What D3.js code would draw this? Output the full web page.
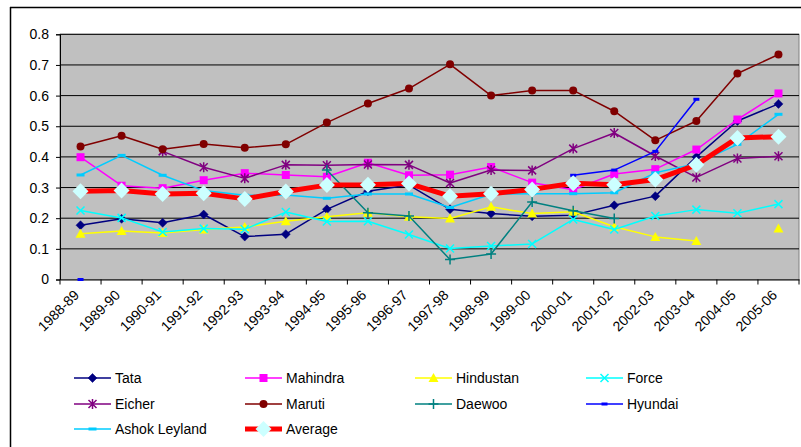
<!DOCTYPE html>
<html><head><meta charset="utf-8">
<script src="https://cdn.jsdelivr.net/npm/d3@7"></script>
<style>
html,body{margin:0;padding:0;background:#fff;}
svg{display:block;font-family:"Liberation Sans",Arial,sans-serif;}
</style></head>
<body><svg id="c" width="801" height="447"></svg>
<script>
const years = ["1988-89","1989-90","1990-91","1991-92","1992-93","1993-94","1994-95","1995-96","1996-97","1997-98","1998-99","1999-00","2000-01","2001-02","2002-03","2003-04","2004-05","2005-06"];
const yTicks = [0,0.1,0.2,0.3,0.4,0.5,0.6,0.7,0.8];
const tata      = [0.177,0.198,0.185,0.212,0.140,0.148,0.229,0.288,0.308,0.229,0.215,0.206,0.210,0.242,0.272,0.400,0.517,0.573];
const mahindra  = [0.399,0.306,0.298,0.324,0.347,0.341,0.335,0.381,0.340,0.342,0.367,0.316,0.293,0.344,0.360,0.424,0.522,0.607];
const hindustan = [0.149,0.158,0.152,0.163,0.171,0.190,0.205,0.218,0.205,0.199,0.237,0.215,0.221,0.172,0.139,0.126,null,0.166];
const force     = [0.225,0.201,0.155,0.166,0.164,0.220,0.189,0.190,0.147,0.101,0.109,0.116,0.196,0.163,0.207,0.228,0.216,0.246];
const eicher    = [null,null,0.418,0.366,0.330,0.374,0.373,0.375,0.374,0.315,0.357,0.356,0.427,0.478,0.403,0.333,0.395,0.402];
const maruti    = [0.434,0.469,0.425,0.442,0.430,0.441,0.512,0.574,0.623,0.702,0.600,0.617,0.617,0.549,0.454,0.517,0.672,0.734];
const daewoo    = [null,null,null,null,null,null,0.357,0.218,0.207,0.065,0.083,0.253,0.224,0.199,null,null,null,null];
const hyundai   = [0,null,null,null,null,null,null,null,null,null,null,null,0.340,0.357,0.418,0.588,null,null];
const ashok     = [0.341,0.405,0.340,0.290,0.275,0.276,0.265,0.279,0.279,0.235,0.278,0.280,0.280,0.283,0.348,0.378,0.441,0.539];
const average   = [0.288,0.290,0.279,0.281,0.263,0.287,0.308,0.309,0.313,0.272,0.280,0.294,0.314,0.309,0.326,0.374,0.462,0.466];

const series = [
  {name:"Tata", values:tata, color:"#000080", marker:"diamond", lw:1.5},
  {name:"Mahindra", values:mahindra, color:"#FF00FF", marker:"square", lw:1.5},
  {name:"Hindustan", values:hindustan, color:"#FFFF00", marker:"triangle", lw:1.5},
  {name:"Force", values:force, color:"#00FFFF", marker:"x", lw:1.5},
  {name:"Eicher", values:eicher, color:"#800080", marker:"star", lw:1.5},
  {name:"Maruti", values:maruti, color:"#800000", marker:"circle", lw:1.5},
  {name:"Daewoo", values:daewoo, color:"#008080", marker:"plus", lw:1.5},
  {name:"Hyundai", values:hyundai, color:"#0000FF", marker:"dash", lw:1.5},
  {name:"Ashok Leyland", values:ashok, color:"#00CCFF", marker:"dash2", lw:1.5},
  {name:"Average", values:average, color:"#FF0000", marker:"bigdiamond", lw:5}
];

const FS = 14;
const svg = d3.select("#c");
const L=60, R=799, T=34.3, B=279.5;
const x = d3.scaleBand().domain(years).range([L,R]);
const y = d3.scaleLinear().domain([0,0.8]).range([B,T]);

// outer frame
svg.append("line").attr("x1",10).attr("x2",801).attr("y1",7.5).attr("y2",7.5).attr("stroke","#000").attr("stroke-width",1.5);
svg.append("line").attr("x1",10.5).attr("x2",10.5).attr("y1",7).attr("y2",447).attr("stroke","#000").attr("stroke-width",1.5);

// plot bg
svg.append("rect").attr("x",L).attr("y",T).attr("width",R-L).attr("height",B-T).attr("fill","#C0C0C0").attr("stroke","#808080").attr("stroke-width",1);

// gridlines
svg.append("g").selectAll("line").data(yTicks.slice(1)).join("line")
  .attr("x1",L).attr("x2",R).attr("y1",d=>y(d)).attr("y2",d=>y(d))
  .attr("stroke","#000").attr("stroke-width",1);

// y axis
const yAxis = d3.axisLeft(y).tickValues(yTicks).tickSize(4).tickPadding(7).tickFormat(d=>d===0?"0":d3.format(".1f")(d));
const gy = svg.append("g").attr("transform",`translate(${L},0)`).call(yAxis);
gy.select(".domain").attr("stroke","#000");
gy.selectAll(".tick line").attr("stroke","#000");
gy.selectAll("text").attr("font-size",FS).attr("fill","#000").attr("font-family","Liberation Sans, Arial, sans-serif");

// x axis
const xAxis = d3.axisBottom(x).tickSize(0).tickFormat("");
const gx = svg.append("g").attr("transform",`translate(0,${B})`).call(xAxis);
gx.select(".domain").attr("stroke","#000");
// category boundary ticks
const bounds = years.map(d=>x(d)).concat([R]);
svg.append("g").selectAll("line").data(bounds).join("line")
  .attr("x1",d=>d).attr("x2",d=>d).attr("y1",B).attr("y2",B+5).attr("stroke","#000");
// rotated labels
svg.append("g").selectAll("text").data(years).join("text")
  .attr("transform",d=>`translate(${x(d)+x.bandwidth()/2-4},${B+13}) rotate(-45)`)
  .attr("text-anchor","end").attr("dy","0.35em")
  .attr("font-size",FS).attr("fill","#000").text(d=>d);

function drawMarker(g, type, color, cx, cy){
  switch(type){
    case "diamond":
      g.append("path").attr("d",`M${cx},${cy-4.5}L${cx+4.5},${cy}L${cx},${cy+4.5}L${cx-4.5},${cy}Z`).attr("fill",color).attr("stroke",color).attr("stroke-width",0.5); break;
    case "square":
      g.append("rect").attr("x",cx-4).attr("y",cy-4).attr("width",8).attr("height",8).attr("fill",color); break;
    case "triangle":
      g.append("path").attr("d",`M${cx},${cy-5}L${cx+5},${cy+4}L${cx-5},${cy+4}Z`).attr("fill",color); break;
    case "x":
      g.append("path").attr("d",`M${cx-4},${cy-4}L${cx+4},${cy+4}M${cx-4},${cy+4}L${cx+4},${cy-4}`).attr("stroke",color).attr("stroke-width",1.5).attr("fill","none"); break;
    case "star":
      g.append("path").attr("d",`M${cx-4},${cy-4}L${cx+4},${cy+4}M${cx-4},${cy+4}L${cx+4},${cy-4}M${cx},${cy-5}L${cx},${cy+5}`).attr("stroke",color).attr("stroke-width",1.5).attr("fill","none"); break;
    case "circle":
      g.append("circle").attr("cx",cx).attr("cy",cy).attr("r",4).attr("fill",color); break;
    case "plus":
      g.append("path").attr("d",`M${cx-5},${cy}L${cx+5},${cy}M${cx},${cy-5}L${cx},${cy+5}`).attr("stroke",color).attr("stroke-width",1.5).attr("fill","none"); break;
    case "dash":
      g.append("rect").attr("x",cx-3).attr("y",cy-1.5).attr("width",6).attr("height",3).attr("fill",color); break;
    case "dash2":
      g.append("rect").attr("x",cx-4).attr("y",cy-1.5).attr("width",8).attr("height",3).attr("fill",color); break;
    case "bigdiamond":
      g.append("path").attr("d",`M${cx},${cy-8}L${cx+8},${cy}L${cx},${cy+8}L${cx-8},${cy}Z`).attr("fill","#CCFFFF"); break;
  }
}

const line = d3.line().defined(d=>d.v!=null).x(d=>x(d.k)+x.bandwidth()/2).y(d=>y(d.v));
series.forEach(s=>{
  const pts = years.map((k,i)=>({k, v:s.values[i]}));
  const g = svg.append("g");
  g.append("path").attr("d",line(pts)).attr("fill","none").attr("stroke",s.color).attr("stroke-width",s.lw).attr("stroke-linejoin","round");
  pts.filter(p=>p.v!=null).forEach(p=>drawMarker(g,s.marker,s.color,x(p.k)+x.bandwidth()/2,y(p.v)));
});

// legend
const colX = [74,245,415,586];
const rowY = [378,404,429];
series.forEach((s,i)=>{
  const cx = colX[i%4], cy = rowY[Math.floor(i/4)];
  const g = svg.append("g");
  g.append("line").attr("x1",cx).attr("x2",cx+37).attr("y1",cy).attr("y2",cy).attr("stroke",s.color).attr("stroke-width",s.lw);
  drawMarker(g,s.marker,s.color,cx+18.5,cy);
  g.append("text").attr("x",cx+41).attr("y",cy).attr("dy","0.35em").attr("font-size",FS).attr("fill","#000").text(s.name);
});
</script></body></html>
